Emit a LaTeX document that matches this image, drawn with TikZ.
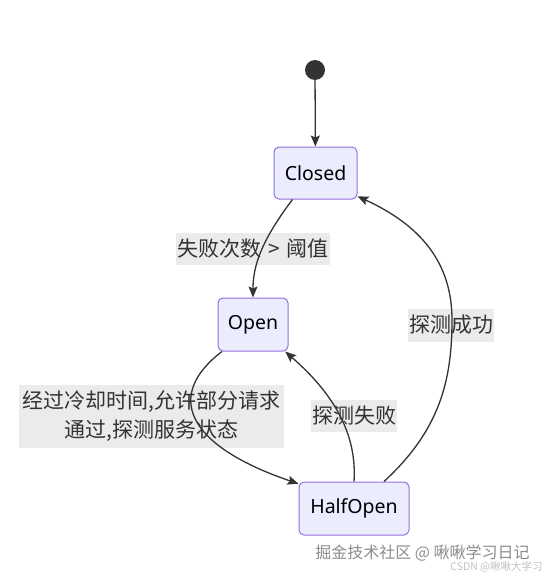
\documentclass[tikz,border=0pt]{standalone}
\usepackage{fontspec}
\setmainfont{Noto Sans}
\newfontfamily\cjk{Noto Sans CJK SC}
\usetikzlibrary{arrows.meta}
\definecolor{nodefill}{HTML}{ECECFF}
\definecolor{nodeborder}{HTML}{9370DB}
\definecolor{edgecol}{HTML}{333333}
\definecolor{lblfill}{HTML}{EBEBEB}
\definecolor{wmone}{HTML}{8C8C8C}
\definecolor{wmtwo}{HTML}{C2C2C2}
\begin{document}
\begin{tikzpicture}[x=1pt,y=-1pt,
  state/.style={draw=nodeborder, fill=nodefill, rounded corners=5pt, line width=1pt, inner sep=0pt, font=\fontsize{19.5}{23}\selectfont, text=black},
  elabel/.style={fill=lblfill, inner sep=0pt, text=edgecol, font=\cjk\fontsize{21}{29}\selectfont, align=center},
  edge/.style={draw=edgecol, line width=1.3pt, -{Stealth[length=11pt,width=9pt,inset=2pt]}},
  wm/.style={inner sep=0pt}]
\useasboundingbox (0,0) rectangle (544,578);
\fill[white] (0,0) rectangle (544,578);

\node[circle, fill=edgecol, minimum size=20pt, inner sep=0pt] (start) at (315,70) {};
\node[state, minimum width=83pt, minimum height=52pt] (closed) at (315.5,173) {Closed};
\node[state, minimum width=70pt, minimum height=53pt] (open) at (253,324.5) {Open};
\node[state, minimum width=110pt, minimum height=53pt] (half) at (354,508.5) {HalfOpen};

\node[elabel, minimum width=154pt, minimum height=32pt] (l1) at (253,249) {失败次数\hspace{7pt}>\hspace{7pt}阈值};
\node[elabel, minimum width=265pt, minimum height=63pt] (l2) at (151.5,416.5) {经过冷却时间,允许部分请求\\通过,探测服务状态};
\node[elabel, minimum width=86pt, minimum height=32pt] (l3) at (354,416) {探测失败};
\node[elabel, minimum width=86pt, minimum height=33pt] (l4) at (451,325) {探测成功};

\draw[edge] (start) -- (closed);
\draw[edge] (closed.229) .. controls (262,240) and (253,265) .. (open.north);
\draw[edge] (open.221.5) .. controls (165,395) and (185,445) .. (half.156.4);
\draw[edge] (half.north) .. controls (357,435) and (335,395) .. (open.-40.7);
\draw[edge] (half.42.4) .. controls (440,430) and (452,380) .. (452,320) .. controls (452,262) and (420,225) .. (closed.-29.5);

\node[wm, font=\cjk\fontsize{16}{18}\selectfont, text=wmone] (wm1) at (422.5,553) {掘金技术社区 @ 啾啾学习日记};
\node[wm, font=\cjk\fontsize{10.5}{12}\selectfont, text=wmtwo] (wm2) at (496.5,567) {CSDN @啾啾大学习};
\end{tikzpicture}
\end{document}
